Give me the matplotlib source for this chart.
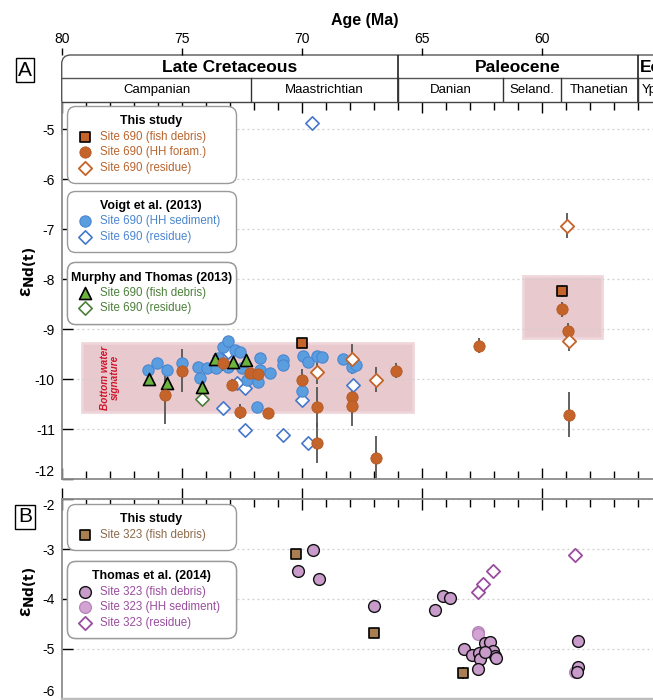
import matplotlib
matplotlib.use('Agg')
import matplotlib.pyplot as plt
from matplotlib.patches import FancyBboxPatch, Rectangle
from matplotlib.ticker import MultipleLocator

plt.rcParams['font.family'] = ['Liberation Sans', 'DejaVu Sans']
plt.rcParams['axes.unicode_minus'] = False

# ---------------- Panel A data (Site 690) ----------------
fish690_age = [70.0, 59.15]
fish690_val = [-9.28, -8.24]
fish690_err = [0.05, 0.12]

hh690_age = [75.69, 74.97, 73.27, 72.92, 72.57, 72.15, 71.81, 71.42, 70.0, 69.38, 69.38,
             67.92, 67.92, 66.9, 66.08, 62.6, 59.15, 58.9, 58.86]
hh690_val = [-10.31, -9.83, -9.68, -10.11, -10.65, -9.88, -9.9, -10.68, -10.02, -10.56, -11.28,
             -10.36, -10.53, -11.58, -9.83, -9.33, -8.6, -9.03, -10.71]
hh690_err = [0.59, 0.43, 0.15, 0.12, 0.15, 0.0, 0.0, 0.0, 0.22, 0.4, 0.4,
             0.0, 0.4, 0.45, 0.15, 0.15, 0.15, 0.15, 0.45]

res690_age = [69.38, 67.92, 66.9, 58.86, 58.95]
res690_val = [-9.85, -9.6, -10.01, -9.23, -6.93]
res690_err = [0.25, 0.3, 0.25, 0.2, 0.25]

vsed_age = [76.39, 76.02, 75.63, 75.0, 74.31, 74.24, 73.96, 73.58, 73.47, 73.3, 73.06, 73.06,
            72.78, 72.57, 72.5, 72.29, 71.87, 71.74, 71.74, 71.32, 71.81, 70.77, 70.77, 69.93,
            69.73, 69.38, 69.17, 68.27, 67.92, 67.74, 70.0]
vsed_val = [-9.81, -9.68, -9.81, -9.68, -9.76, -9.98, -9.78, -9.78, -9.58, -9.35, -9.23, -9.75,
            -9.41, -9.45, -9.78, -10.01, -10.56, -9.58, -9.81, -9.88, -10.05, -9.61, -9.71, -9.53,
            -9.65, -9.53, -9.56, -9.6, -9.75, -9.71, -10.23]

vres_age = [69.56, 73.06, 73.27, 72.71, 72.36, 72.36, 70.77, 69.73, 70.0, 67.86]
vres_val = [-4.87, -9.45, -10.58, -10.08, -10.18, -11.01, -11.11, -11.27, -10.41, -10.11]

mfish_age = [76.35, 75.6, 74.14, 73.61, 72.85, 72.33]
mfish_val = [-10.0, -10.08, -10.15, -9.59, -9.66, -9.61]
mres_age = [74.14]
mres_val = [-10.39]

# bottom-water bands (age range, value range)
band_age = [(79.17, 65.37), (60.8, 57.5)]
band_val = [(-9.27, -10.65), (-7.93, -9.17)]

# ---------------- Panel B data (Site 323) ----------------
fish323_age = [70.24, 66.97, 63.27]
fish323_val = [-3.09, -4.68, -5.48]
fish323_err = [0.1, 0.1, 0.12]

tfish_age = [69.54, 70.14, 69.27, 66.97, 64.1, 63.82, 64.45, 63.24, 62.92, 62.61, 62.38, 62.14,
             62.05, 61.95, 61.9, 62.57, 62.38, 62.64, 58.5, 58.5, 58.54]
tfish_val = [-3.01, -3.43, -3.61, -4.15, -3.95, -3.99, -4.23, -5.0, -5.13, -5.08, -4.89, -4.86,
             -5.05, -5.15, -5.18, -5.21, -5.07, -5.41, -4.85, -5.36, -5.47]
tsed_age = [62.64, 62.64, 58.61]
tsed_val = [-4.67, -4.71, -5.47]
tres_age = [62.64, 62.46, 62.04, 58.61]
tres_val = [-3.87, -3.71, -3.43, -3.11]

# ---------------- Time scale ----------------
eras = ['Late Cretaceous', 'Paleocene', 'Eocene']
era_bounds = [(80, 66.0), (66.0, 56.0), (56.0, 47.8)]
stages = ['Campanian', 'Maastrichtian', 'Danian', 'Seland.', 'Thanetian', 'Ypresian']
stage_bounds = [(80, 72.1), (72.1, 66.0), (66.0, 61.6), (61.6, 59.2), (59.2, 56.0), (56.0, 47.8)]
age_ticks = [80, 75, 70, 65, 60, 55]

# colours
ORANGE = '#c4632a'
BLUE = '#5b9ee0'
BLUE_E = '#4a86d0'
BLUE_D = '#4577cc'
GREEN = '#6db33f'
GREEN_D = '#4c7f3a'
PINK = '#c99bcb'
PINK2 = '#d2a3d3'
PURPLE = '#9a4d9f'
BROWN = '#a97e52'

W_PX, H_PX = 653, 700
fig = plt.figure(figsize=(6.53, 7.0), dpi=100)

def fx(px):
    return px / W_PX

def fy(py):
    return 1 - py / H_PX

L = fx(61.7)
AW = 720 / W_PX  # 30 Ma at 24 px/Ma
XMIN, XMAX = 80, 50

# ---------- time-scale axes ----------
ax_ts = fig.add_axes([L, fy(101.7), AW, (101.7 - 55) / H_PX])
ax_ts.set_xlim(XMIN, XMAX)
ax_ts.set_ylim(0, 1)
for s in ax_ts.spines.values():
    s.set_visible(False)
ax_ts.set_facecolor('none')
box = FancyBboxPatch((0.617, 5.6), 8.0, 0.85, boxstyle='round,pad=0,rounding_size=0.09',
                     transform=fig.dpi_scale_trans, facecolor='white', edgecolor='#555555',
                     linewidth=1.0, clip_on=False, zorder=0)
ax_ts.add_patch(box)
ax_ts.axhline(0.5, color='#555555', lw=1.0)
for (a0, a1) in era_bounds[1:]:
    ax_ts.axvline(a0, color='#222222', lw=1.2)
for (a0, a1) in stage_bounds[1:]:
    ax_ts.axvline(a0, ymin=0, ymax=0.5, color='#333333', lw=1.0)
for name, (a0, a1) in zip(eras, era_bounds):
    if a0 == 56.0:
        ax_ts.text(a0 - 0.1, 0.74, name, ha='left', va='center', fontsize=12.5, fontweight='bold')
    else:
        ax_ts.text((a0 + a1) / 2, 0.74, name, ha='center', va='center', fontsize=12.5,
                   fontweight='bold')
for name, (a0, a1) in zip(stages, stage_bounds):
    if a0 == 56.0:
        ax_ts.text(a0 - 0.15, 0.25, name, ha='left', va='center', fontsize=9.5)
    else:
        ax_ts.text((a0 + a1) / 2, 0.25, name, ha='center', va='center', fontsize=9.5)
ax_ts.xaxis.tick_top()
ax_ts.set_xticks(age_ticks)
ax_ts.set_xticklabels([str(t) for t in age_ticks])
ax_ts.tick_params(axis='x', direction='out', length=5, width=1.0, labelsize=10, pad=1.5)
ax_ts.set_yticks([])
fig.text(fx(365), fy(20), 'Age (Ma)', ha='center', va='center', fontsize=11.5, fontweight='bold')

# ---------- panel A ----------
ax_a = fig.add_axes([L, fy(479.3), AW, (479.3 - 101.7) / H_PX])
ax_a.set_xlim(XMIN, XMAX)
ax_a.set_ylim(-12, -4.45)
for (a0, a1), (v0, v1) in zip(band_age, band_val):
    ax_a.add_patch(Rectangle((a1, v1), a0 - a1, v0 - v1, facecolor='#e7c6cc', edgecolor='#eed6da',
                             lw=2.0, alpha=0.95, zorder=0.5))

ax_a.text(77.98, -9.97, 'Bottom water\nsignature', rotation=90, ha='center', va='center',
          fontsize=7.2, fontweight='bold', fontstyle='italic', color='#d0142c',
          multialignment='center', linespacing=1.0, zorder=1)

EC = '#555555'
ax_a.errorbar(hh690_age, hh690_val, yerr=hh690_err, fmt='none', ecolor=EC, elinewidth=1.3, zorder=2)
ax_a.errorbar(res690_age, res690_val, yerr=res690_err, fmt='none', ecolor=EC, elinewidth=1.3, zorder=2)
ax_a.errorbar(fish690_age, fish690_val, yerr=fish690_err, fmt='none', ecolor=EC, elinewidth=1.3, zorder=2)

h_vres = ax_a.scatter(vres_age, vres_val, marker='D', s=46, facecolor='white', edgecolor=BLUE_D,
                      linewidth=1.2, zorder=3)
h_vsed = ax_a.scatter(vsed_age, vsed_val, marker='o', s=66, facecolor=BLUE, edgecolor=BLUE_E,
                      linewidth=0.8, zorder=3.2)
h_mres = ax_a.scatter(mres_age, mres_val, marker='D', s=46, facecolor='white', edgecolor=GREEN_D,
                      linewidth=1.2, zorder=4)
h_mfish = ax_a.scatter(mfish_age, mfish_val, marker='^', s=75, facecolor=GREEN, edgecolor='black',
                       linewidth=1.2, zorder=4)
h_hh = ax_a.scatter(hh690_age, hh690_val, marker='o', s=66, facecolor=ORANGE, edgecolor='#b35a24',
                    linewidth=0.6, zorder=5)
h_res = ax_a.scatter(res690_age, res690_val, marker='D', s=46, facecolor='white', edgecolor=ORANGE,
                     linewidth=1.3, zorder=5)
h_fish = ax_a.scatter(fish690_age, fish690_val, marker='s', s=44, facecolor=ORANGE, edgecolor='black',
                      linewidth=1.2, zorder=6)

ax_a.yaxis.set_major_locator(MultipleLocator(1))
ax_a.xaxis.set_major_locator(MultipleLocator(5))
ax_a.xaxis.set_minor_locator(MultipleLocator(1))
ax_a.tick_params(axis='x', which='major', direction='in', top=True, bottom=True, length=8, width=1.0,
                 labelbottom=False, labeltop=False)
ax_a.tick_params(axis='x', which='minor', direction='in', top=True, bottom=True, length=5.5, width=1.0)
ax_a.tick_params(axis='y', direction='in', left=True, right=True, length=8, width=1.0, labelsize=10, pad=5)
ax_a.grid(axis='y', color='#cfcfcf', lw=0.9, ls=(0, (1.5, 2.5)), zorder=0)
for side in ['left', 'bottom', 'right']:
    ax_a.spines[side].set_color('#8c8c8c')
    ax_a.spines[side].set_linewidth(1.3)
ax_a.spines['top'].set_color('#444444')
ax_a.spines['top'].set_linewidth(1.0)

def make_legend(ax, handles, labels, title, top, colors):
    leg = ax.legend(handles, labels, title=title, loc='upper left',
                    bbox_to_anchor=(5 / 720, top, 169 / 720, 0), bbox_transform=ax.transAxes,
                    mode='expand', fontsize=8.3, title_fontsize=8.9, frameon=True, fancybox=True,
                    borderpad=0.8, labelspacing=0.3, handlelength=1.6, handletextpad=0.5,
                    borderaxespad=0, scatterpoints=1, framealpha=1)
    leg.get_title().set_fontweight('bold')
    leg.get_frame().set_edgecolor('#9a9a9a')
    leg.get_frame().set_linewidth(1.0)
    leg.get_frame().set_boxstyle('round,pad=0,rounding_size=0.75')
    for t, c in zip(leg.get_texts(), colors):
        t.set_color(c)
    leg.set_zorder(10)
    ax.add_artist(leg)
    return leg

AH = 479.3 - 101.7
make_legend(ax_a, [h_fish, h_hh, h_res],
            ['Site 690 (fish debris)', 'Site 690 (HH foram.)', 'Site 690 (residue)'],
            'This study', (479.3 - 106) / AH, ['#b8652e'] * 3)
make_legend(ax_a, [h_vsed, h_vres],
            ['Site 690 (HH sediment)', 'Site 690 (residue)'],
            'Voigt et al. (2013)', (479.3 - 190.7) / AH, [BLUE_E] * 2)
make_legend(ax_a, [h_mfish, h_mres],
            ['Site 690 (fish debris)', 'Site 690 (residue)'],
            'Murphy and Thomas (2013)', (479.3 - 262.3) / AH, [GREEN_D] * 2)

# ---------- panel B ----------
ax_b = fig.add_axes([L, fy(698.5), AW, (698.5 - 499.3) / H_PX])
ax_b.set_xlim(XMIN, XMAX)
ax_b.set_ylim(-6, -2)
ax_b.errorbar(fish323_age, fish323_val, yerr=fish323_err, fmt='none', ecolor='#333333',
              elinewidth=1.3, zorder=2)
h_tres = ax_b.scatter(tres_age, tres_val, marker='D', s=46, facecolor='white', edgecolor=PURPLE,
                      linewidth=1.3, zorder=3)
h_tsed = ax_b.scatter(tsed_age, tsed_val, marker='o', s=72, facecolor=PINK2, edgecolor='#b484b8',
                      linewidth=0.9, zorder=3)
h_tfish = ax_b.scatter(tfish_age, tfish_val, marker='o', s=72, facecolor=PINK, edgecolor='#111111',
                       linewidth=1.0, zorder=4)
h_f323 = ax_b.scatter(fish323_age, fish323_val, marker='s', s=44, facecolor=BROWN, edgecolor='black',
                      linewidth=1.2, zorder=5)

ax_b.yaxis.set_major_locator(MultipleLocator(1))
ax_b.xaxis.set_major_locator(MultipleLocator(5))
ax_b.xaxis.set_minor_locator(MultipleLocator(1))
ax_b.tick_params(axis='x', which='major', direction='inout', top=True, bottom=False, length=16,
                 width=1.0, labelbottom=False, labeltop=False)
ax_b.tick_params(axis='x', which='minor', direction='in', top=True, bottom=False, length=5.5, width=1.0)
ax_b.tick_params(axis='y', direction='in', left=True, right=True, length=8, width=1.0, labelsize=10, pad=5)
ax_b.grid(axis='y', color='#cfcfcf', lw=0.9, ls=(0, (1.5, 2.5)), zorder=0)
for side in ['left', 'right', 'top']:
    ax_b.spines[side].set_color('#8c8c8c')
    ax_b.spines[side].set_linewidth(1.3)
ax_b.spines['bottom'].set_color('#bdbdbd')
ax_b.spines['bottom'].set_linewidth(2.5)

BH = 698.5 - 499.3
make_legend(ax_b, [h_f323], ['Site 323 (fish debris)'], 'This study', (698.5 - 504) / BH,
            ['#8b6a4a'])
make_legend(ax_b, [h_tfish, h_tsed, h_tres],
            ['Site 323 (fish debris)', 'Site 323 (HH sediment)', 'Site 323 (residue)'],
            'Thomas et al. (2014)', (698.5 - 561) / BH, [PURPLE] * 3)

# nudge edge tick labels inward like the reference
fig.canvas.draw()
for ax in (ax_a, ax_b):
    lo, hi = ax.get_ylim()
    for tl, val in zip(ax.get_yticklabels(), ax.get_yticks()):
        if abs(val - lo) < 1e-6:
            tl.set_va('bottom')
        elif abs(val - hi) < 1e-6:
            tl.set_va('top')

# ---------- labels ----------
fig.text(fx(29), fy(272), 'ε$_{\\mathbf{Nd(t)}}$', rotation=90, ha='center', va='center',
         fontsize=14, fontweight='bold')
fig.text(fx(29), fy(592), 'ε$_{\\mathbf{Nd(t)}}$', rotation=90, ha='center', va='center',
         fontsize=14, fontweight='bold')
for lab, py in [('A', 70), ('B', 517)]:
    fig.text(fx(25), fy(py), lab, ha='center', va='center', fontsize=15,
             bbox=dict(boxstyle='square,pad=0.12', facecolor='white', edgecolor='black', lw=1.0))

fig.savefig('out.png', dpi=100)
